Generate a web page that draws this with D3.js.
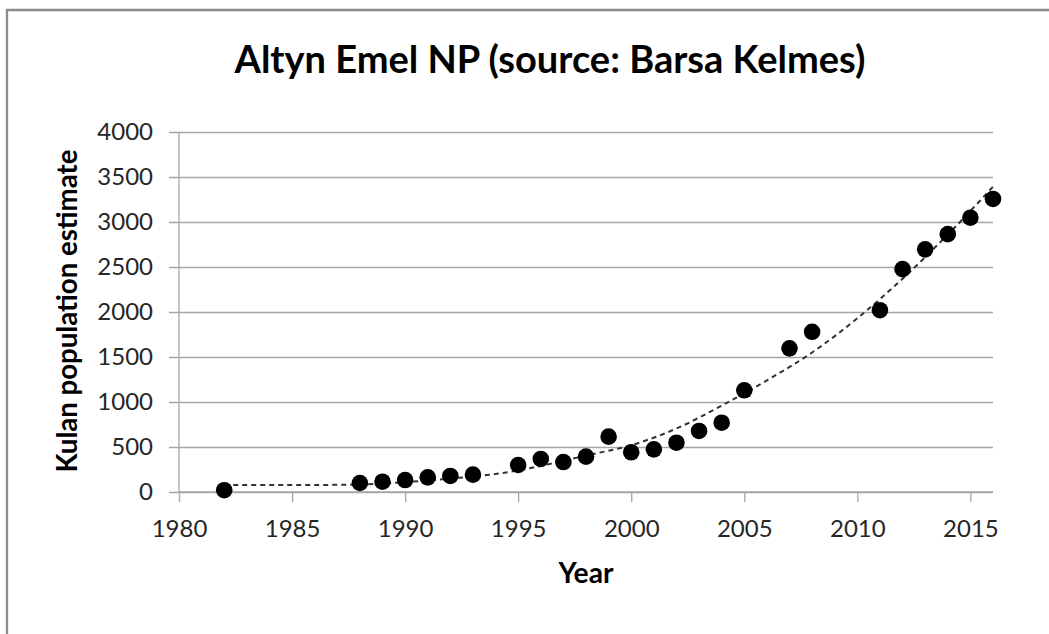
<!DOCTYPE html>
<html>
<head>
<meta charset="utf-8">
<script src="https://cdn.jsdelivr.net/npm/d3@7"></script>
<style>
  html, body { margin: 0; padding: 0; background: #fff; }
  svg { display: block; font-family: Lato, "Open Sans", sans-serif; }
</style>
</head>
<body>
<svg id="chart" width="1049" height="634"></svg>
<script>
// ---- data ----
const years = [1982, 1988, 1989, 1990, 1991, 1992, 1993, 1995, 1996, 1997, 1998, 1999, 2000, 2001, 2002, 2003, 2004, 2005, 2007, 2008, 2011, 2012, 2013, 2014, 2015, 2016];
const population = [20, 100, 114, 133, 163, 178, 193, 300, 367, 333, 393, 615, 441, 474, 548, 678, 770, 1130, 1596, 1780, 2020, 2476, 2696, 2865, 3048, 3256];
// trend line
const trendYears = [1982, 1984, 1986, 1988, 1990, 1992, 1994, 1996, 1998, 2000, 2002, 2004, 2006, 2008, 2010, 2012, 2014, 2016];
const trendValues = [78, 77, 78, 84, 110, 150, 200, 290, 405, 520, 705, 960, 1240, 1550, 1930, 2370, 2860, 3392];
const xTicks = [1980, 1985, 1990, 1995, 2000, 2005, 2010, 2015];
const yTicks = [0, 500, 1000, 1500, 2000, 2500, 3000, 3500, 4000];
const title = "Altyn Emel NP (source: Barsa Kelmes)";
const xTitle = "Year";
const yTitle = "Kulan population estimate";

// ---- layout ----
const svg = d3.select("#chart");
const plot = { left: 179, right: 993, top: 132, bottom: 492 };
const x = d3.scaleLinear().domain([1980, 2016]).range([plot.left, plot.right]);
const y = d3.scaleLinear().domain([0, 4000]).range([plot.bottom, plot.top]);

// frame (only top and left edges visible)
svg.append("path")
  .attr("d", "M7,640 L7,10 L1060,10")
  .attr("fill", "none")
  .attr("stroke", "#8c8c8c")
  .attr("stroke-width", 2.3);

// title
const t = svg.append("text")
  .attr("x", 550).attr("y", 73)
  .attr("text-anchor", "middle")
  .attr("font-weight", "bold")
  .attr("font-size", 36)
  .attr("fill", "#000")
  .text(title);
fitWidth(t, 631, 36);

// gridlines + y axis
const yAxis = d3.axisLeft(y).tickValues(yTicks).tickSize(-(plot.right - plot.left)).tickPadding(16).tickFormat(d3.format("d"));
const gy = svg.append("g").attr("transform", `translate(${plot.left},0)`).call(yAxis);
gy.select(".domain").remove();
gy.selectAll(".tick line")
  .attr("x1", -10)
  .attr("stroke", "#a6a6a6").attr("stroke-width", 1.3);
gy.selectAll(".tick text")
  .attr("font-family", "Lato, sans-serif")
  .attr("font-size", 24)
  .attr("fill", "#262626")
  .attr("x", -26);

// y axis line
svg.append("line")
  .attr("x1", plot.left).attr("x2", plot.left)
  .attr("y1", plot.top).attr("y2", plot.bottom)
  .attr("stroke", "#a6a6a6").attr("stroke-width", 1.3);

// x axis
const xAxis = d3.axisBottom(x).tickValues(xTicks).tickSize(10).tickPadding(18).tickFormat(d3.format("d"));
const gx = svg.append("g").attr("transform", `translate(0,${plot.bottom})`).call(xAxis);
gx.select(".domain").attr("stroke", "#a6a6a6").attr("stroke-width", 1.3)
  .attr("d", `M${plot.left},0H${plot.right}`);
gx.selectAll(".tick line").attr("stroke", "#a6a6a6").attr("stroke-width", 1.3);
gx.selectAll(".tick text")
  .attr("font-family", "Lato, sans-serif")
  .attr("font-size", 24)
  .attr("fill", "#262626");

// axis titles
const xt = svg.append("text")
  .attr("x", (plot.left + plot.right) / 2).attr("y", 583)
  .attr("text-anchor", "middle")
  .attr("font-weight", "bold")
  .attr("font-size", 24)
  .attr("fill", "#000")
  .text(xTitle);
fitWidth(xt, 55, 24);

const yt = svg.append("text")
  .attr("transform", `translate(77,311) rotate(-90)`)
  .attr("text-anchor", "middle")
  .attr("font-weight", "bold")
  .attr("font-size", 26)
  .attr("fill", "#000")
  .text(yTitle);
fitWidth(yt, 323, 26);

// trend line
const trend = trendYears.map((yr, i) => [yr, trendValues[i]]);
svg.append("path")
  .datum(trend)
  .attr("fill", "none")
  .attr("stroke", "#333")
  .attr("stroke-width", 2)
  .attr("stroke-dasharray", "5,4")
  .attr("d", d3.line().x(d => x(d[0])).y(d => y(d[1])).curve(d3.curveMonotoneX));

// points
svg.append("g").selectAll("circle")
  .data(years.map((yr, i) => [yr, population[i]]))
  .join("circle")
  .attr("cx", d => x(d[0]))
  .attr("cy", d => y(d[1]))
  .attr("r", 8.3)
  .attr("fill", "#000");

function fitWidth(sel, target, size) {
  const w = sel.node().getComputedTextLength();
  if (w > 0) sel.attr("font-size", size * target / w);
}
</script>
</body>
</html>
